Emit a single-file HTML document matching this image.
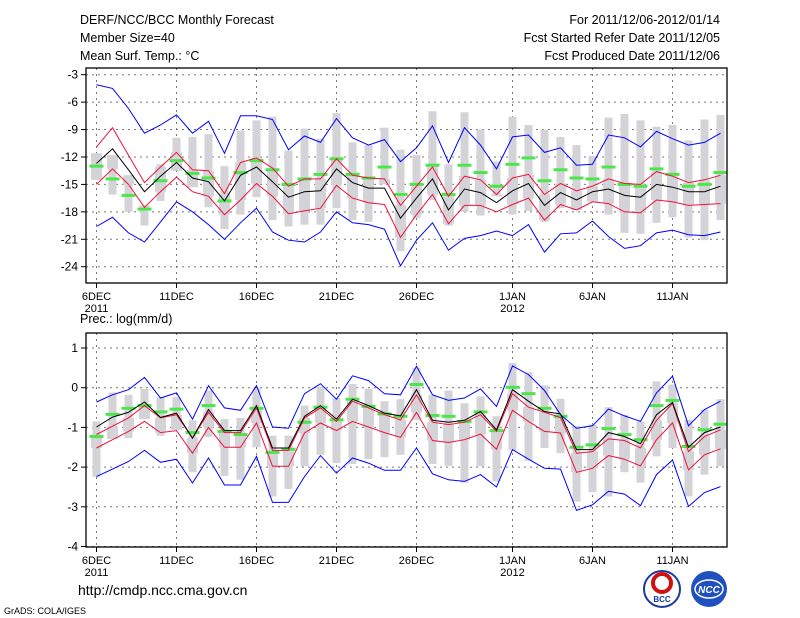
<!DOCTYPE html>
<html><head><meta charset="utf-8">
<style>
body{margin:0;background:#fff;}
svg{display:block;font-family:"Liberation Sans",sans-serif;}
</style></head>
<body>
<svg id="chart" width="800" height="618" viewBox="0 0 800 618" xmlns="http://www.w3.org/2000/svg">
<rect x="0" y="0" width="800" height="618" fill="#fff"/>
<g font-size="12.5" fill="#000">
<text x="80" y="24">DERF/NCC/BCC Monthly Forecast</text>
<text x="80" y="42">Member Size=40</text>
<text x="80" y="60">Mean Surf. Temp.: °C</text>
<text x="720" y="24" text-anchor="end">For 2011/12/06-2012/01/14</text>
<text x="720" y="42" text-anchor="end">Fcst Started Refer Date 2011/12/05</text>
<text x="720" y="60" text-anchor="end">Fcst Produced Date 2011/12/06</text>
<text x="80" y="323">Prec.: log(mm/d)</text>
<text x="78" y="595" font-size="14">http://cmdp.ncc.cma.gov.cn</text>
<text x="4" y="614" font-size="9">GrADS: COLA/IGES</text>
</g>
<g>
<circle cx="662" cy="589" r="18" fill="#fff" stroke="#1a3aa0" stroke-width="2"/>
<circle cx="662" cy="583" r="9" fill="none" stroke="#d01010" stroke-width="4"/>
<text x="662" y="602" font-size="8" text-anchor="middle" fill="#1a3aa0" font-weight="bold">BCC</text>
</g>
<g>
<circle cx="709" cy="589" r="18" fill="#2050c0"/>
<ellipse cx="709" cy="589" rx="14" ry="9" fill="none" stroke="#fff" stroke-width="1.5"/>
<text x="709" y="593" font-size="10" text-anchor="middle" fill="#fff" font-style="italic" font-weight="bold">NCC</text>
</g>
<g id="top"></g>
<g id="bot"></g>
</svg>
<script>
// ---- Temperature panel data (index 0 = 6 Dec 2011, daily) ----
const tBlueUp=[-4.1,-4.5,-6.7,-9.4,-8.5,-7.4,-9.4,-8.1,-11.6,-7.5,-7.5,-7.9,-11.2,-9.7,-10.4,-7.8,-9.9,-10.7,-10.1,-12.5,-11.0,-8.6,-12.6,-8.8,-10.7,-13.3,-9.8,-9.6,-11.5,-11.0,-12.9,-12.8,-9.6,-9.9,-10.9,-9.2,-10.0,-10.7,-10.4,-9.4];
const tBlueLo=[-19.6,-18.6,-20.3,-21.3,-19.1,-16.9,-18.0,-19.4,-21.0,-19.2,-17.6,-20.2,-21.1,-21.3,-20.2,-18.0,-19.2,-19.4,-19.9,-23.9,-21.1,-19.2,-22.2,-20.9,-20.6,-20.1,-20.6,-19.4,-22.4,-20.4,-20.3,-19.0,-20.7,-22.0,-21.7,-20.3,-20.0,-20.5,-20.6,-20.2];
const tRedUp=[-10.9,-8.8,-11.8,-14.8,-13.1,-11.5,-13.4,-13.5,-16.0,-12.6,-12.1,-13.2,-15.2,-14.4,-14.4,-12.2,-14.0,-14.3,-14.4,-17.3,-15.2,-13.1,-16.3,-14.1,-14.5,-16.1,-14.3,-13.9,-16.1,-14.9,-15.7,-15.2,-14.4,-14.9,-15.0,-13.6,-14.1,-14.8,-14.5,-14.0];
const tRedLo=[-15.0,-13.3,-15.0,-17.5,-15.8,-14.2,-15.8,-16.3,-18.3,-16.7,-14.9,-16.3,-18.2,-17.9,-17.6,-15.1,-16.5,-17.0,-17.2,-20.8,-18.3,-16.1,-19.3,-17.3,-17.3,-18.0,-17.2,-16.5,-18.9,-17.2,-17.8,-16.9,-17.1,-18.0,-18.1,-16.7,-16.9,-17.3,-17.2,-17.1];
const tMean=[-12.7,-11.1,-13.4,-15.8,-14.1,-12.6,-14.3,-14.7,-16.8,-14.0,-13.1,-14.7,-16.4,-15.8,-15.7,-13.3,-14.8,-15.4,-15.4,-18.7,-16.5,-14.4,-17.8,-15.5,-15.9,-17.0,-15.7,-14.9,-17.3,-15.9,-16.7,-15.8,-15.5,-16.2,-16.4,-15.0,-15.3,-15.8,-15.8,-15.2];
const tObs=[-13.0,-14.4,-16.2,-17.7,-14.6,-12.4,-13.8,-14.3,-16.8,-13.7,-12.4,-13.4,-15.0,-14.4,-13.9,-12.2,-13.9,-14.3,-13.1,-16.1,-15.0,-12.9,-16.1,-12.9,-13.7,-15.2,-12.8,-12.1,-14.6,-13.4,-14.3,-14.4,-13.1,-15.0,-15.2,-13.3,-13.9,-15.2,-15.0,-13.7];
const tMax=[-11.6,-11.8,-14.0,-17.3,-12.8,-9.9,-9.8,-9.5,-13.0,-9.1,-8.0,-7.6,-11.3,-8.9,-10.0,-7.2,-10.4,-10.7,-8.8,-11.2,-11.8,-7.0,-12.8,-7.1,-9.0,-12.5,-7.6,-8.5,-9.0,-9.8,-10.7,-11.9,-7.7,-7.3,-8.0,-8.7,-8.5,-10.2,-7.9,-7.4];
const tMin=[-14.5,-16.1,-18.0,-19.5,-16.8,-13.5,-15.3,-17.5,-19.9,-18.3,-16.4,-18.9,-19.6,-19.4,-19.4,-17.6,-18.9,-19.1,-15.0,-22.3,-18.7,-16.7,-19.5,-18.0,-18.4,-16.3,-18.3,-17.9,-19.1,-17.6,-17.8,-16.9,-18.3,-20.3,-20.4,-19.2,-18.6,-20.8,-21.1,-18.9];
const tTicks=[-3,-6,-9,-12,-15,-18,-21,-24];
// ---- Precipitation panel data ----
const pBlueUp=[-0.36,-0.18,-0.05,0.26,-0.26,-0.13,-0.79,0.05,-0.51,-0.57,0.05,-0.99,-1.02,-0.15,0.10,-0.29,0.30,0.18,-0.15,-0.18,0.54,-0.18,-0.32,-0.26,-0.03,-0.47,0.55,0.33,-0.07,-0.68,-1.02,-0.96,-0.54,-0.71,-0.85,-0.13,0.29,-0.96,-0.55,-0.34];
const pBlueLo=[-2.24,-2.05,-1.86,-1.58,-1.88,-1.80,-2.40,-1.77,-2.45,-2.45,-1.73,-2.89,-2.89,-2.24,-1.71,-2.15,-1.77,-1.90,-2.08,-2.08,-1.52,-2.17,-2.32,-2.36,-2.19,-2.50,-1.56,-1.80,-2.03,-2.05,-3.09,-2.95,-2.61,-2.68,-2.97,-2.19,-1.82,-2.99,-2.64,-2.49];
const pRedUp=[-1.18,-0.97,-0.76,-0.45,-0.76,-0.68,-1.27,-0.62,-1.13,-1.13,-0.51,-1.58,-1.58,-0.76,-0.51,-0.85,-0.34,-0.51,-0.68,-0.81,-0.18,-0.87,-0.93,-0.87,-0.68,-1.10,-0.15,-0.49,-0.62,-0.75,-1.65,-1.61,-1.29,-1.33,-1.52,-0.82,-0.40,-1.61,-1.23,-1.06];
const pRedLo=[-1.52,-1.31,-1.10,-0.85,-1.13,-1.08,-1.65,-1.00,-1.50,-1.50,-0.89,-1.98,-1.98,-1.14,-0.89,-1.08,-0.85,-0.99,-1.13,-1.25,-0.62,-1.33,-1.38,-1.31,-1.17,-1.55,-0.57,-0.85,-1.10,-1.14,-2.13,-2.03,-1.71,-1.80,-1.97,-1.31,-0.89,-2.07,-1.69,-1.54];
const pMean=[-0.99,-0.74,-0.62,-0.36,-0.75,-0.64,-1.27,-0.55,-1.08,-1.08,-0.45,-1.52,-1.52,-0.72,-0.45,-0.79,-0.29,-0.45,-0.64,-0.71,-0.05,-0.82,-0.87,-0.82,-0.60,-1.06,-0.05,-0.34,-0.60,-0.66,-1.56,-1.56,-1.13,-1.23,-1.41,-0.68,-0.37,-1.50,-1.13,-0.99];
const pObs=[-1.23,-0.67,-0.52,-0.45,-0.61,-0.54,-1.13,-0.45,-1.10,-1.18,-0.52,-1.63,-1.55,-0.87,-0.49,-0.81,-0.29,-0.47,-0.66,-0.72,0.08,-0.70,-0.72,-0.85,-0.61,-1.08,0.01,-0.15,-0.52,-0.72,-1.50,-1.44,-1.03,-1.18,-1.31,-0.45,-0.32,-1.48,-1.06,-0.92];
const pMax=[-0.85,-0.12,-0.18,-0.03,-0.24,-0.24,-0.82,-0.07,-0.79,-0.76,-0.01,-1.21,-1.21,-0.45,0.03,-0.26,0.09,-0.03,-0.34,-0.29,0.50,-0.18,-0.07,-0.39,-0.22,-0.72,0.62,0.39,0.06,-0.28,-0.97,-0.93,-0.49,-0.68,-0.85,0.16,0.08,-0.81,-0.55,-0.29];
const pMin=[-2.24,-1.29,-1.27,-0.79,-1.21,-1.06,-2.13,-1.24,-2.22,-2.32,-1.50,-2.74,-2.55,-1.98,-1.69,-1.90,-1.92,-1.80,-1.75,-1.69,-0.81,-1.92,-1.97,-2.39,-1.98,-2.36,-1.58,-1.84,-1.52,-1.65,-2.87,-2.63,-2.74,-2.13,-2.39,-1.73,-1.52,-2.74,-2.19,-1.98];
const pTicks=[1,0,-1,-2,-3,-4];
const dateIdx=[0,5,10,15,20,26,31,36];
const dateLbl=["6DEC","11DEC","16DEC","21DEC","26DEC","1JAN","6JAN","11JAN"];
const yearLbl=["2011","","","","","2012","",""];

const NS="http://www.w3.org/2000/svg";
const X0=86,X1=727;
function xs(i){return 96.5+16*i;}
function mk(tag,attrs,parent){const e=document.createElementNS(NS,tag);for(const k in attrs)e.setAttribute(k,attrs[k]);parent.appendChild(e);return e;}

function panel(g,name,top,bot,ys,ticks,blueUp,blueLo,redUp,redLo,mean,obs,mx,mn){
  const bg=mk('rect',{x:X0,y:top,width:X1-X0,height:bot-top,fill:'#fff'},g);
  
  
  ticks.forEach(t=>{
    const y=ys(t);
    const l=mk('line',{x1:X0,x2:X1,y1:y,y2:y,stroke:'#777','stroke-dasharray':'2,4','stroke-width':1},g);
    
    
    mk('line',{x1:X0-5,x2:X0,y1:y,y2:y,stroke:'#000'},g);
    const tx=mk('text',{x:X0-8,y:y+4,'font-size':12,'text-anchor':'end'},g);
    tx.textContent=String(t);
    
    
  });
  dateIdx.forEach((d,k)=>{
    const x=xs(d);
    const l=mk('line',{x1:x,x2:x,y1:top,y2:bot,stroke:'#777','stroke-dasharray':'2,4','stroke-width':1},g);
    
    
    mk('line',{x1:x,x2:x,y1:bot,y2:bot+5,stroke:'#000'},g);
    const tx=mk('text',{x:x,y:bot+17,'font-size':11,'text-anchor':'middle'},g);
    tx.textContent=dateLbl[k];
    
    
    if(yearLbl[k]){
      const ty=mk('text',{x:x,y:bot+29,'font-size':11,'text-anchor':'middle'},g);
      ty.textContent=yearLbl[k];
      
      
    }
  });
  mx.forEach((v,i)=>{
    const x=xs(i);
    const r=mk('rect',{x:x-4,y:ys(v),width:8,height:ys(mn[i])-ys(v),fill:'#d3d3d8'},g);
    
    
    const a=Math.min(v,redUp[i]),b=Math.max(mn[i],redLo[i]);
    if(a>b){
      const r2=mk('rect',{x:x-5.5,y:ys(a),width:11,height:ys(b)-ys(a),fill:'#d3d3d8'},g);
      
      
    }
  });
  obs.forEach((v,i)=>{
    const r=mk('rect',{x:xs(i)-7,y:ys(v)-1.5,width:14,height:3,fill:'#4ce64c'},g);
    
    
  });
  const line=(arr,col,nm)=>{
    const p=mk('polyline',{points:arr.map((v,i)=>xs(i)+','+ys(v).toFixed(1)).join(' '),fill:'none',stroke:col,'stroke-width':1},g);
    
    
  };
  line(blueUp,'#0000ff',name+'-blue-upper-line');
  line(blueLo,'#0000ff',name+'-blue-lower-line');
  line(redUp,'#f0103c',name+'-red-upper-line');
  line(redLo,'#f0103c',name+'-red-lower-line');
  line(mean,'#000',name+'-mean-line');
  const f=mk('rect',{x:X0,y:top,width:X1-X0,height:bot-top,fill:'none',stroke:'#000','stroke-width':1.3},g);
  
  
}
panel(document.getElementById('top'),'temp',68,283,v=>74.7+(-3-v)*9.143,tTicks,tBlueUp,tBlueLo,tRedUp,tRedLo,tMean,tObs,tMax,tMin);
panel(document.getElementById('bot'),'precip',333,547,v=>348+(1-v)*39.7,pTicks,pBlueUp,pBlueLo,pRedUp,pRedLo,pMean,pObs,pMax,pMin);
</script>
</body></html>
